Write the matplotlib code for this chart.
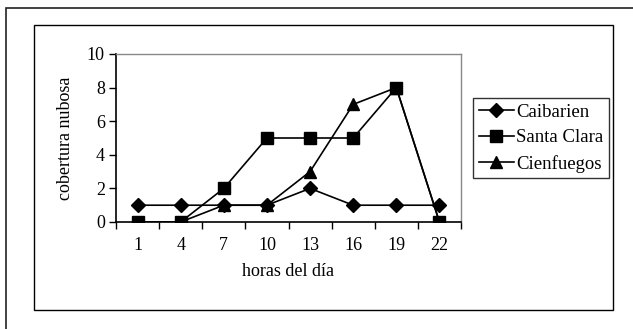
import matplotlib.pyplot as plt
from matplotlib.patches import Rectangle

plt.rcParams['font.family'] = ['Liberation Serif', 'DejaVu Serif']

horas = ['1', '4', '7', '10', '13', '16', '19', '22']
caibarien = [1, 1, 1, 1, 2, 1, 1, 1]
santa_clara = [0, 0, 2, 5, 5, 5, 8, 0]
cienfuegos = [0, 0, 1, 1, 3, 7, 8, 0]

W, H = 633, 329
fig = plt.figure(figsize=(W / 100, H / 100), dpi=100)

# outer frame and chart frame
fig.patches.append(Rectangle((6 / W, -0.1), 1.0, 1 - 8 / H + 0.1, transform=fig.transFigure,
                             fill=False, edgecolor='#222222', linewidth=1.2))
fig.patches.append(Rectangle((34 / W, 1 - 310 / H), (613 - 34) / W, (310 - 25) / H,
                             transform=fig.transFigure, fill=False, edgecolor='black', linewidth=1.0))

ax = fig.add_axes([116 / W, 1 - 222 / H, (461 - 116) / W, (222 - 54) / H])
x = range(len(horas))
ax.plot(x, caibarien, color='black', lw=1.2, marker='D', ms=7, label='Caibarien')
ax.plot(x, santa_clara, color='black', lw=1.2, marker='s', ms=8.5, label='Santa Clara')
ax.plot(x, cienfuegos, color='black', lw=1.2, marker='^', ms=8.5, label='Cienfuegos')

ax.set_xlim(-0.5, 7.5)
ax.set_ylim(0, 10)
ax.set_yticks([0, 2, 4, 6, 8, 10])
ax.set_xticks(list(x))
ax.set_xticklabels(horas)
ax.set_xticks([i - 0.5 for i in range(len(horas) + 1)], minor=True)
ax.tick_params(axis='x', which='major', length=0, pad=11, labelsize=13)
ax.tick_params(axis='x', which='minor', length=5, direction='out', width=1)
ax.tick_params(axis='y', length=5, direction='out', width=1, labelsize=13, pad=3)

for side in ['top', 'right']:
    ax.spines[side].set_color('#888888')
    ax.spines[side].set_linewidth(1.0)
for side in ['left', 'bottom']:
    ax.spines[side].set_color('black')
    ax.spines[side].set_linewidth(1.2)

ax.set_xlabel('horas del día', fontsize=13, labelpad=6)
ax.set_ylabel('cobertura nubosa', fontsize=13, labelpad=9)

leg = fig.legend(loc='upper left', bbox_to_anchor=(473 / W, 1 - 98 / H), fontsize=13.5,
                 frameon=True, fancybox=False, edgecolor='black', handlelength=1.9,
                 handletextpad=0.1, borderpad=0.3, labelspacing=0.45, borderaxespad=0,
                 markerscale=1.05)
leg.get_frame().set_linewidth(1.0)

fig.savefig('out.png', dpi=100)
